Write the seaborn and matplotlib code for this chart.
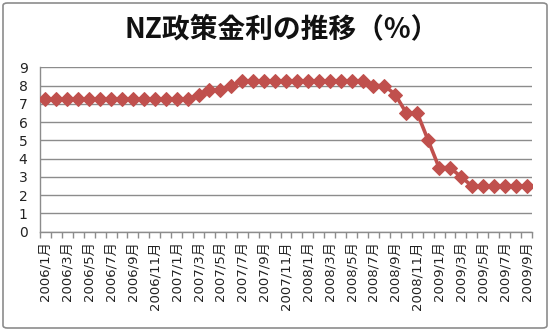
import matplotlib
matplotlib.use("Agg")
import matplotlib.pyplot as plt
from matplotlib.patches import FancyBboxPatch
from matplotlib.ticker import FixedLocator
import seaborn as sns
import pandas as pd

# Monthly NZ official cash rate, 2006/1 .. 2009/9
months = [f"{y}/{m}月" for y in (2006, 2007, 2008, 2009) for m in range(1, 13)][:45]
rates = ([7.25] * 14
         + [7.5, 7.75, 7.75, 8.0]
         + [8.25] * 12
         + [8.0, 8.0, 7.5, 6.5, 6.5, 5.0, 3.5, 3.5, 3.0]
         + [2.5] * 6)
title = "NZ政策金利の推移（%）"
yticks = list(range(0, 10))

df = pd.DataFrame({"idx": range(len(months)), "month": months, "rate": rates})

sns.set_theme(style="white")
plt.rcParams["font.family"] = ["DejaVu Sans", "Noto Sans CJK JP"]

fig = plt.figure(figsize=(5.5, 3.31), dpi=100)
ax = fig.add_axes([40 / 550, 1 - 231.5 / 331, (532 - 40) / 550, (231.5 - 67.3) / 331])

line_color = "#C0504D"
sns.lineplot(data=df, x="idx", y="rate", ax=ax, color=line_color, linewidth=2.6,
             marker="D", markersize=7.3, markeredgecolor=line_color, zorder=3)

ax.set_xlim(-0.5, len(months) - 0.5)
ax.set_ylim(0, 9)
ax.set_yticks(yticks)
ax.set_yticklabels([str(v) for v in yticks], fontsize=10, color="#222222")
ax.yaxis.grid(True, color="#8c8c8c", linewidth=1)
ax.set_axisbelow(True)

ax.set_xticks(df["idx"][::2])
ax.set_xticklabels(df["month"][::2], rotation=90, fontsize=9.5, color="#222222")
ax.xaxis.set_minor_locator(FixedLocator([i - 0.5 for i in range(len(months) + 1)]))
ax.tick_params(axis="x", which="major", length=0, pad=7)
ax.tick_params(axis="x", which="minor", length=4, width=1, color="#8c8c8c", bottom=True)
ax.tick_params(axis="y", length=0, pad=9)

for side in ("top", "right"):
    ax.spines[side].set_visible(False)
for side in ("left", "bottom"):
    ax.spines[side].set_color("#8c8c8c")
    ax.spines[side].set_linewidth(1)

ax.set_xlabel("")
ax.set_ylabel("")

fig.text(0.5 + 7 / 550, 1 - 30 / 331, title, ha="center", va="center",
         fontsize=20, fontweight="bold", color="#111111",
         family=["Noto Sans CJK JP", "DejaVu Sans"])

border = FancyBboxPatch((3 / 550, 3 / 331), 544 / 550, 325 / 331,
                        boxstyle="round,pad=0,rounding_size=0.008",
                        transform=fig.transFigure, fill=False,
                        edgecolor="#8c8c8c", linewidth=1.2)
fig.patches.append(border)

fig.savefig("out.png", dpi=100, facecolor="white")
